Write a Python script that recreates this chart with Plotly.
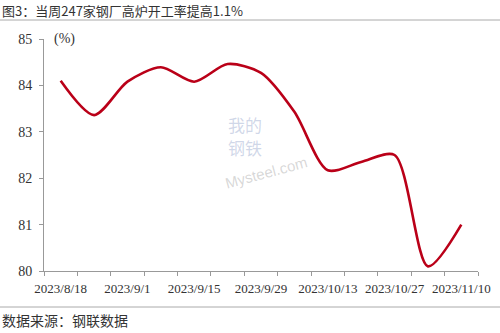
import plotly.graph_objects as go
import pandas as pd

dates = ["2023-08-18", "2023-08-25", "2023-09-01", "2023-09-08", "2023-09-15",
         "2023-09-22", "2023-09-29", "2023-10-06", "2023-10-13", "2023-10-20",
         "2023-10-27", "2023-11-03", "2023-11-10"]
rate = [84.10, 83.36, 84.08, 84.39, 84.08, 84.46, 84.27, 83.43, 82.17, 82.35,
        82.50, 80.10, 81.00]
tick_dates = dates[::2]
tick_labels = ["2023/8/18", "2023/9/1", "2023/9/15", "2023/9/29",
               "2023/10/13", "2023/10/27", "2023/11/10"]
title_text = "图3：当周247家钢厂高炉开工率提高1.1%"
source_text = "数据来源：钢联数据"

d = pd.to_datetime(dates)
half = pd.Timedelta(days=3.5)
bounds = [x - half for x in d] + [d[-1] + half]

fig = go.Figure()
fig.add_trace(go.Scatter(x=d, y=rate, mode="lines",
                         line=dict(color="#BA0018", width=2.6, shape="spline", smoothing=0.8),
                         hoverinfo="skip", showlegend=False))

serif = "Liberation Serif, Times New Roman, serif"
cjk = "Noto Sans CJK SC"
fig.update_layout(
    width=500, height=333,
    margin=dict(l=44, r=22, t=39, b=62),
    paper_bgcolor="white", plot_bgcolor="white",
    xaxis=dict(range=[bounds[0], bounds[-1]], tickmode="array", automargin=False,
               tickvals=pd.to_datetime(tick_dates), ticktext=tick_labels,
               ticks="", showgrid=False, zeroline=False, ticklabelstandoff=5,
               showline=True, linecolor="#999999", linewidth=1,
               tickfont=dict(family=serif, size=13, color="#333333"),
               minor=dict(tickmode="array", tickvals=bounds, ticks="outside",
                          ticklen=4, tickcolor="#999999", tickwidth=1, showgrid=False)),
    yaxis=dict(range=[80, 85], dtick=1, ticks="outside", ticklen=4, automargin=False,
               tickcolor="#999999", showgrid=False, zeroline=False, ticklabelstandoff=4,
               showline=True, linecolor="#999999", linewidth=1,
               tickfont=dict(family=serif, size=14, color="#333333")),
    font=dict(family=serif),
)

fig.add_annotation(text="(%)", xref="paper", yref="paper", x=0.018, y=1.0,
                   xanchor="left", yanchor="middle", showarrow=False,
                   font=dict(family=serif, size=14, color="#333333"))

# title and source
fig.add_annotation(text=title_text, xref="paper", yref="paper",
                   x=-44/434, y=1 + (39 - 10) / 232, xanchor="left", yanchor="middle",
                   showarrow=False, font=dict(family=cjk, size=13, color="#333333"))
fig.add_annotation(text=source_text, xref="paper", yref="paper",
                   x=-44/434, y=-(320 - 271) / 232, xanchor="left", yanchor="middle",
                   showarrow=False, font=dict(family=cjk, size=14, color="#333333"))
fig.add_shape(type="line", xref="paper", yref="paper",
              x0=-44/434, x1=1 + 22/434, y0=1 + (39 - 20) / 232, y1=1 + (39 - 20) / 232,
              line=dict(color="#aaaaaa", width=1))
fig.add_shape(type="line", xref="paper", yref="paper",
              x0=-44/434, x1=1 + 22/434, y0=-(307 - 271) / 232, y1=-(307 - 271) / 232,
              line=dict(color="#aaaaaa", width=1))

# faint watermark
fig.add_annotation(text="我的", xref="paper", yref="paper",
                   x=(245 - 44) / 434, y=(271 - 124) / 232, showarrow=False,
                   font=dict(family=cjk, size=17, color="rgba(120,140,190,0.35)"))
fig.add_annotation(text="钢铁", xref="paper", yref="paper",
                   x=(245 - 44) / 434, y=(271 - 147) / 232, showarrow=False,
                   font=dict(family=cjk, size=17, color="rgba(120,140,190,0.35)"))
fig.add_annotation(text="Mysteel.com", xref="paper", yref="paper",
                   x=(266 - 44) / 434, y=(271 - 172) / 232, showarrow=False, textangle=-15,
                   font=dict(family="Liberation Sans", size=15, color="rgba(140,140,140,0.35)"))

fig.write_html("out.html")
